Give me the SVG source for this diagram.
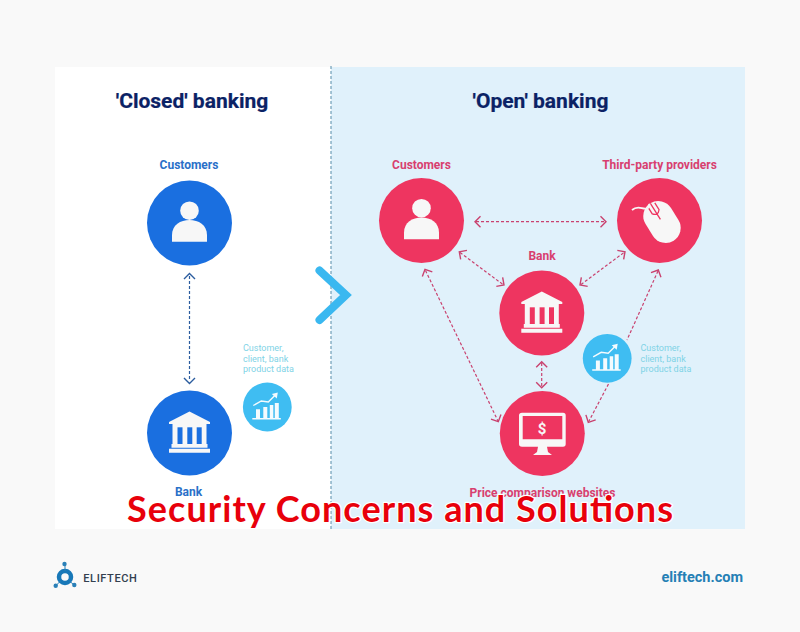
<svg xmlns="http://www.w3.org/2000/svg" width="800" height="632" viewBox="0 0 800 632">
<style>
.h{font:700 21px Roboto,"Liberation Sans",sans-serif;fill:#0b2265;text-anchor:middle;stroke:#0b2265;stroke-width:.2px}
.b{font:700 12px Roboto,"Liberation Sans",sans-serif;fill:#2a70c8;text-anchor:middle}
.r{font:700 12px Roboto,"Liberation Sans",sans-serif;fill:#d83f6f;text-anchor:middle}
.d{font:400 9px Roboto,"Liberation Sans",sans-serif;fill:#7fd3e6}
.c{fill:none;stroke-width:1.2;stroke-dasharray:3 2}
.cb{stroke:#2b5c9e}.cr{stroke:#c9426f}
.ah{fill:none;stroke-width:1.4}
.ic{fill:#f7f7f7}
.t{font:700 36px Lato,"Noto Sans",sans-serif;fill:#e8000b;stroke:#fff;stroke-width:2.5px;paint-order:stroke;stroke-linejoin:round}
</style>
<defs>
<g id="person" class="ic"><circle cx="0" cy="-12.300" r="9.300"/><path d="M-17.500 18.700V12C-17.500 2-9-3 0-3S17.500 2 17.500 12V18.700Z"/></g>
<g id="bank"><path class="ic" d="M0-21.500L20.500-11V-9H-20.500V-11ZM-17-9H17V11H-17ZM-18 11H18V14.700H-18ZM-20.500 15.700H20.500V19.700H-20.500Z"/><g class="pil"><rect x="-12" y="-5.700" width="5" height="16.700"/><rect x="-2.200" y="-5.700" width="5" height="16.700"/><rect x="7.200" y="-5.700" width="5" height="16.700"/></g></g>
<g id="chart"><path fill="#f4fbfe" d="M-11.300 11V2.300H-7.300V11ZM-4 11V0H0V11ZM2.500 11V-2H6V11ZM7.500 11V-4H11.500V11ZM-15 11H13.500V12.500H-15Z"/><path fill="none" stroke="#f4fbfe" stroke-width="1.400" d="M-14-1.500L-6-6L1-5L8-12"/><path fill="#f4fbfe" d="M4.500-13L10.500-14.500L9.500-8.500Z"/></g>
<path id="ar" d="M-5.500-5.500L0 0L-5.500 5.500"/>
</defs>

<rect width="800" height="632" fill="#f9f9f9"/>
<rect id="panel-closed" x="55" y="67" width="276" height="462" fill="#fff"/>
<rect id="panel-open" x="331" y="67" width="414" height="462" fill="#e0f1fb"/>
<line x1="331" y1="66" x2="331" y2="529" class="c" stroke="#6f9fb8"/>

<g id="connectors">
<g class="c cb"><path d="M189.500 276V381"/></g>
<g class="ah cb"><use href="#ar" transform="translate(189.500,273.500) rotate(-90)"/><use href="#ar" transform="translate(189.500,383.500) rotate(90)"/></g>
<g class="c cr">
<path d="M476 221.700H606"/>
<path d="M460 252.500L503 284.500"/>
<path d="M581 284.500L624 252.500"/>
<path d="M425.500 270.500L498 421"/>
<path d="M541.700 363V387"/>
<path d="M658 271L627 340"/>
<path d="M608.500 384L589 421"/>
</g>
<g class="ah cr">
<use href="#ar" transform="translate(475,221.700) rotate(180)"/>
<use href="#ar" transform="translate(606,221.700)"/>
<use href="#ar" transform="translate(459.300,251.700) rotate(-145)"/>
<use href="#ar" transform="translate(504,285) rotate(35)"/>
<use href="#ar" transform="translate(580,285) rotate(145)"/>
<use href="#ar" transform="translate(625,251.700) rotate(-35)"/>
<use href="#ar" transform="translate(425,269.300) rotate(-115)"/>
<use href="#ar" transform="translate(498.300,421.700) rotate(65)"/>
<use href="#ar" transform="translate(541.700,361.700) rotate(-90)"/>
<use href="#ar" transform="translate(541.700,387.700) rotate(90)"/>
<use href="#ar" transform="translate(658.300,270) rotate(-65)"/>
<use href="#ar" transform="translate(588.300,422.300) rotate(117)"/>
</g>
</g>

<path id="chevron" d="M319.500 270.500L346 295L319.500 320" fill="none" stroke="#3ab8f0" stroke-width="8" stroke-linecap="round" stroke-linejoin="miter"/>

<text class="h" x="192" y="108">'Closed' banking</text>
<text class="h" x="540.500" y="108">'Open' banking</text>

<g id="closed-customers"><text class="b" x="189" y="169">Customers</text><circle cx="189.500" cy="223" r="42.500" fill="#1a6fe0"/><use href="#person" transform="translate(189.500,223)"/></g>
<g id="closed-bank" style="fill:#1a6fe0"><circle cx="189.500" cy="433" r="42.500" fill="#1a6fe0"/><use href="#bank" transform="translate(189.500,433)"/><text class="b" x="188.500" y="496">Bank</text></g>
<g id="closed-data"><text class="d"><tspan x="243" y="351">Customer,</tspan><tspan x="243" y="361.500">client, bank</tspan><tspan x="243" y="372">product data</tspan></text><circle cx="267.300" cy="407" r="24.400" fill="#3fbdf2"/><use href="#chart" transform="translate(267.300,407)"/></g>

<g id="open-customers"><text class="r" x="421.500" y="169">Customers</text><circle cx="421.500" cy="220.500" r="42.500" fill="#ee3560"/><use href="#person" transform="translate(421.500,220.500)"/></g>
<g id="open-providers"><text class="r" x="659.500" y="169">Third-party providers</text><circle cx="659.500" cy="220.500" r="42.500" fill="#ee3560"/>
<g transform="translate(662,222) rotate(-32)"><rect x="-15" y="-22" width="30" height="44" rx="15" class="ic"/><path d="M0-22V-3M-4-20L-4-12Q0-7 4-12L4-20" stroke="#ee3560" stroke-width="1.300" fill="none"/></g>
<path d="M632 210C639 204 643 211 648 208C650 205 648 204 650 205" fill="none" stroke="#f7f7f7" stroke-width="1.800"/></g>
<g id="open-bank" style="fill:#ee3560"><text class="r" x="542" y="260">Bank</text><circle cx="541.800" cy="313" r="42.500" fill="#ee3560"/><use href="#bank" transform="translate(541.800,313)"/></g>
<g id="open-price"><circle cx="542.300" cy="433.500" r="42.500" fill="#ee3560"/><path class="ic" fill-rule="evenodd" d="M522 412.700H563Q565.700 412.700 565.700 415.500V444Q565.700 446.700 563 446.700H547L548 452L552 455H533L537 452L538 446.700H522Q519 446.700 519 444V415.500Q519 412.700 522 412.700ZM522.700 416V439.300H562.300V416Z"/><text x="542" y="433.500" text-anchor="middle" style="font:700 15px Roboto,sans-serif;fill:#f7f7f7">$</text><text class="r" x="542.500" y="496.500">Price comparison websites</text></g>
<g id="open-data"><circle cx="607.200" cy="358.300" r="24.400" fill="#3fbdf2"/><use href="#chart" transform="translate(607.200,358.300)"/><text class="d"><tspan x="640.500" y="351">Customer,</tspan><tspan x="640.500" y="361.500">client, bank</tspan><tspan x="640.500" y="372">product data</tspan></text></g>

<g id="logo"><circle cx="65" cy="577" r="6" fill="none" stroke="#1878b8" stroke-width="4.500"/><path d="M65 565V571M56 585.500L60.500 581M74 585L69.500 581" stroke="#2a80b8" stroke-width="1"/><circle cx="64.500" cy="564" r="2.200" fill="#2a80b8"/><circle cx="55.700" cy="585.700" r="2.200" fill="#2a80b8"/><circle cx="74.300" cy="585" r="2.200" fill="#2a80b8"/><text x="83.300" y="581.700" textLength="53.500" style="font:500 11px Roboto,sans-serif;fill:#33404f">ELIFTECH</text></g>
<text x="743" y="581.700" text-anchor="end" style="font:700 14.500px Roboto,sans-serif;fill:#2580b5">eliftech.com</text>

<text class="t" x="127" y="522" textLength="546">Security Concerns and Solutions</text>
</svg>
